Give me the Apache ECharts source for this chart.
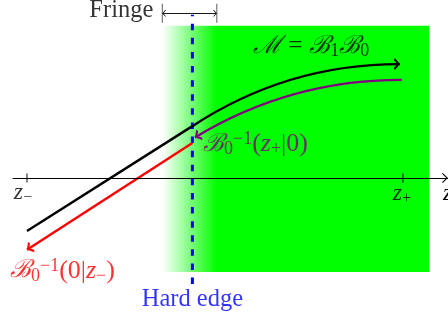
<!DOCTYPE html>
<html><head><meta charset="utf-8">
<script src="https://cdn.jsdelivr.net/npm/echarts@6/dist/echarts.min.js"></script>
<style>html,body{margin:0;padding:0;background:#fff}#c{width:448px;height:322px}</style>
</head><body><div id="c"></div>
<script>
// ---- data (z measured so that z− = 0 and z+ = 10) ----
const zTickValues = [0, 10];
const zTickLabels = ['{i|z}{sb|−}', '{i|z}{sb|+}'];
const axisName = 'z';
const magnetZ = [3.6, 10.7];
const magnetY = [-2.5, 4.05];
const fringeZ = [3.6, 5.05];
const fringeY = 4.38;
const hardEdgeZ = 4.4;
const hardEdgeY = [-2.82, 4.34];
const blackIn = [[0, -1.41], [4.4, 1.38]];
const blackOut = [[4.4, 1.38], [9.92, 3.03]];
const purpleBack = [[9.97, 2.61], [4.47, 1.08]];
const redBack = [[4.4, 0.93], [0, -1.91]];
const textFringe = 'Fringe';
const textHardEdge = 'Hard edge';
const textMap = '{s|ℳ}{m| = }{s|ℬ}{sb|1}{s|ℬ}{sb|0}';
const textPurple = '{s|ℬ}{sb|0}{sp|−1}{m|(}{i|z}{sb|+}{m||0)}';
const textRed = '{s|ℬ}{sb|0}{sp|−1}{m|(0|}{i|z}{sb|−}{m|)}';

// ---- styles ----
const SERIF = 'Liberation Serif';
const MATH = 'DejaVu Serif';
const GREEN = '#00ff00', BLUE = '#0000ff', RED = '#ff0000', PURPLE = '#800080';
const chev = 'path://M50,-60L50.4,-60L50.4,-59.6Z M0,50L50,0L100,50L82,60L50,28L18,60Z';
const chevThin = 'path://M50,-60L50.4,-60L50.4,-59.6Z M0,52L50,0L100,52L92,60L50,16L8,60Z';
const rich = {
  m: {fontFamily: SERIF, fontSize: 26, lineHeight: 28},
  i: {fontFamily: SERIF, fontSize: 26, fontStyle: 'italic', lineHeight: 28},
  s: {fontFamily: MATH, fontSize: 25, fontStyle: 'italic', lineHeight: 28},
  sb: {fontFamily: SERIF, fontSize: 18, lineHeight: 16, verticalAlign: 'bottom'},
  sp: {fontFamily: SERIF, fontSize: 18, lineHeight: 16, verticalAlign: 'top'},
  zi: {fontFamily: SERIF, fontSize: 24, fontStyle: 'italic', lineHeight: 26},
  zs: {fontFamily: SERIF, fontSize: 16, lineHeight: 15, verticalAlign: 'bottom'}
};
function note(pt, text, color, align, offset) {
  return {value: pt, label: {show: true, position: 'inside', formatter: text, color: color,
    align: align, verticalAlign: 'middle', offset: offset, fontFamily: SERIF, fontSize: 24.5, rich: rich}};
}
const tickRich = t => t.replace('{i|', '{zi|').replace('{sb|', '{zs|');
const fringeStop = (fringeZ[1] - magnetZ[0]) / (magnetZ[1] - magnetZ[0]);

const chart = echarts.init(document.getElementById('c'), null, {renderer: 'canvas'});
chart.setOption({
  animation: false,
  backgroundColor: '#fff',
  textStyle: {fontFamily: SERIF},
  grid: {left: 13, right: 0, top: 0, bottom: 0, containLabel: false, outerBoundsMode: 'none'},
  xAxis: {
    type: 'value', min: -0.372, max: 11.2, z: 5,
    axisLine: {show: true, onZero: true, lineStyle: {color: '#000', width: 1.2},
      symbol: ['none', chevThin], symbolSize: [10, 12]},
    axisTick: {show: false}, axisLabel: {show: false}, splitLine: {show: false},
    name: axisName, nameLocation: 'end', nameGap: -5,
    nameTextStyle: {fontFamily: SERIF, fontStyle: 'italic', fontSize: 24, color: '#000',
      align: 'left', verticalAlign: 'top', padding: [4, 0, 0, 0]}
  },
  yAxis: {type: 'value', min: -3.83, max: 4.735, show: false},
  series: [
    { // magnet body with fringe shading
      type: 'custom', z: 1,
      data: [[magnetZ[0], magnetZ[1], magnetY[0], magnetY[1]]],
      renderItem: function (params, api) {
        const p0 = api.coord([api.value(0), api.value(3)]);
        const p1 = api.coord([api.value(1), api.value(2)]);
        return {type: 'rect', shape: {x: p0[0], y: p0[1], width: p1[0] - p0[0], height: p1[1] - p0[1]},
          style: {fill: new echarts.graphic.LinearGradient(0, 0, 1, 0, [
            {offset: 0, color: '#ffffff'}, {offset: fringeStop, color: GREEN}, {offset: 1, color: GREEN}])}};
      }
    },
    { // hard edge
      type: 'line', z: 2, symbol: 'none',
      data: [[hardEdgeZ, hardEdgeY[0]], [hardEdgeZ, hardEdgeY[1]]],
      lineStyle: {color: BLUE, width: 3, type: [6.5, 7.6]}
    },
    { // fringe bracket
      type: 'lines', coordinateSystem: 'cartesian2d', z: 3,
      symbol: [chevThin, chevThin], symbolSize: [7, 7],
      lineStyle: {color: '#000', width: 0.9, opacity: 1},
      data: [{coords: [[fringeZ[0], fringeY], [fringeZ[1], fringeY]]}]
    },
    {
      type: 'scatter', z: 3, symbol: 'rect', symbolSize: [1, 19], itemStyle: {color: '#333'},
      data: fringeZ.map(v => [v, fringeY])
    },
    { // z-axis ticks
      type: 'scatter', z: 6, symbol: 'rect', symbolSize: [1.2, 9], itemStyle: {color: '#000'},
      data: zTickValues.map(v => [v, 0])
    },
    { // trajectory before hard edge
      type: 'lines', coordinateSystem: 'cartesian2d', z: 4, symbol: 'none',
      lineStyle: {color: '#000', width: 2.4, opacity: 1},
      data: [{coords: blackIn}]
    },
    { // map M
      type: 'lines', coordinateSystem: 'cartesian2d', z: 4,
      symbol: ['none', chev], symbolSize: [13, 12],
      lineStyle: {color: '#000', width: 2.4, opacity: 1, curveness: 0.15},
      data: [{coords: blackOut}]
    },
    {
      type: 'lines', coordinateSystem: 'cartesian2d', z: 4,
      symbol: ['none', chev], symbolSize: [13, 12],
      lineStyle: {color: PURPLE, width: 2.4, opacity: 1, curveness: -0.14},
      data: [{coords: purpleBack}]
    },
    {
      type: 'lines', coordinateSystem: 'cartesian2d', z: 4,
      symbol: ['none', chev], symbolSize: [13, 12],
      lineStyle: {color: RED, width: 2.4, opacity: 1},
      data: [{coords: redBack}]
    },
    { // text annotations anchored on the marks
      type: 'scatter', z: 7, symbolSize: 1, itemStyle: {color: 'rgba(0,0,0,0)'},
      data: [
        note([fringeZ[0], fringeY], textFringe, '#000', 'right', [-9, -3]),
        note([hardEdgeZ, hardEdgeY[0]], textHardEdge, BLUE, 'center', [0, 16]),
        note(blackOut[1], textMap, '#000', 'center', [-89, -18]),
        note(purpleBack[1], textPurple, PURPLE, 'left', [8, 7]),
        note(redBack[1], textRed, RED, 'left', [-17, 21]),
        note([zTickValues[0], 0], tickRich(zTickLabels[0]), '#000', 'center', [-4, 15]),
        note([zTickValues[1], 0], tickRich(zTickLabels[1]), '#000', 'center', [-1, 16])
      ]
    }
  ]
});
</script></body></html>
